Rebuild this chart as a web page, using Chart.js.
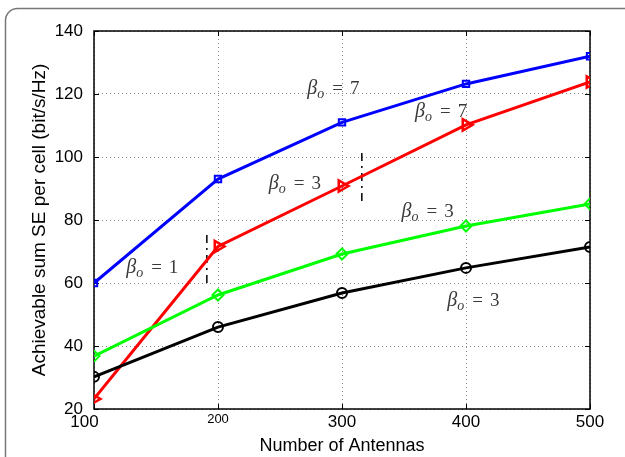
<!DOCTYPE html>
<html>
<head>
<meta charset="utf-8">
<script src="https://cdn.jsdelivr.net/npm/chart.js@4.4.1/dist/chart.umd.min.js"></script>
<style>
  body { margin: 0; background: #fff; }
  #wrap { width: 625px; height: 457px; }
</style>
</head>
<body>
<div id="wrap"><canvas id="seChart" width="625" height="457"></canvas></div>
<script>
// ===============================
// Data
// ===============================
const antennas = [100, 200, 300, 400, 500];
const blueSE  = [60, 93, 111, 123.2, 132];
const redSE   = [23.2, 71.6, 90.8, 110.2, 123.8];
const greenSE = [36.8, 56.2, 69.2, 78.1, 85.1];
const blackSE = [30.2, 46, 56.8, 64.8, 71.4];

const xTicks = [100, 200, 300, 400, 500];
const yTicks = [20, 40, 60, 80, 100, 120, 140];

// beta labels (data coords) and dashed markers
const noteX   = [293, 380, 262, 369, 147, 406];
const noteY   = [122, 114.5, 91.7, 82.9, 65, 54.6];
const noteVal = ['7', '7', '3', '3', '1', '3'];

const dash1X = [191, 191];
const dash1Y = [60, 76];
const dash2X = [316, 316];
const dash2Y = [86, 102];

const toPoints = (xs, ys) => xs.map((x, i) => ({ x: x, y: ys[i] }));

const SANS = "'Liberation Sans', Arial, sans-serif";
const SERIF = "'Liberation Serif', 'DejaVu Serif', serif";

// ===============================
// Frame, box, inward ticks, labels
// ===============================
const decorPlugin = {
  id: 'decor',
  beforeDraw(chart) {
    const ctx = chart.ctx;
    ctx.save();
    ctx.strokeStyle = '#777';
    ctx.lineWidth = 1.5;
    ctx.beginPath();
    ctx.roundRect(5.5, 8.5, 700, 600, 12);
    ctx.stroke();
    ctx.restore();
  },
  beforeDatasetsDraw(chart) {
    const { ctx, chartArea: a, scales } = chart;
    ctx.save();
    ctx.strokeStyle = '#000';
    ctx.lineWidth = 1.5;
    ctx.strokeRect(a.left, a.top, a.right - a.left, a.bottom - a.top);
    ctx.lineWidth = 1;
    ctx.beginPath();
    xTicks.forEach(v => {
      const px = Math.round(scales.x.getPixelForValue(v)) + 0.5;
      ctx.moveTo(px, a.bottom); ctx.lineTo(px, a.bottom - 5);
      ctx.moveTo(px, a.top); ctx.lineTo(px, a.top + 5);
    });
    yTicks.forEach(v => {
      const py = Math.round(scales.y.getPixelForValue(v)) + 0.5;
      ctx.moveTo(a.left, py); ctx.lineTo(a.left + 5, py);
      ctx.moveTo(a.right, py); ctx.lineTo(a.right - 5, py);
    });
    ctx.stroke();
    ctx.restore();
  },
  afterDatasetsDraw(chart) {
    const { ctx, scales } = chart;
    ctx.save();
    ctx.fillStyle = '#3a3a3a';
    ctx.textBaseline = 'alphabetic';
    noteX.forEach((nx, i) => {
      const cx = scales.x.getPixelForValue(nx);
      const cy = scales.y.getPixelForValue(noteY[i]) + 6;
      ctx.font = 'italic 20px ' + SERIF;
      const wb = ctx.measureText('\u03B2').width;
      ctx.font = 'italic 14px ' + SERIF;
      const wo = ctx.measureText('o').width;
      ctx.font = '19px ' + SERIF;
      const we = ctx.measureText('=').width;
      const wd = ctx.measureText(noteVal[i]).width;
      const total = wb + wo + 1 + 7 + we + 7 + wd;
      let x = cx - total / 2;
      ctx.font = 'italic 20px ' + SERIF;
      ctx.fillText('\u03B2', x, cy);
      x += wb;
      ctx.font = 'italic 14px ' + SERIF;
      ctx.fillText('o', x, cy + 4);
      x += wo + 1 + 7;
      ctx.font = '19px ' + SERIF;
      ctx.fillText('=', x, cy);
      x += we + 7;
      ctx.fillText(noteVal[i], x, cy);
    });
    ctx.restore();
  }
};

// ===============================
// Chart
// ===============================
const ctx = document.getElementById('seChart').getContext('2d');

const seriesStyle = (color, style, extra) => Object.assign({
  borderColor: color,
  backgroundColor: color,
  borderWidth: 3,
  pointStyle: style,
  pointRadius: 5,
  pointBorderWidth: 2,
  pointBackgroundColor: 'rgba(255,255,255,0)',
  pointBorderColor: color,
  tension: 0,
  fill: false
}, extra || {});

new Chart(ctx, {
  type: 'line',
  data: {
    datasets: [
      Object.assign({ label: 'black', data: toPoints(antennas, blackSE) }, seriesStyle('#000000', 'circle')),
      Object.assign({ label: 'green', data: toPoints(antennas, greenSE) }, seriesStyle('#00ff00', 'rectRot', { pointRadius: 5.5 })),
      Object.assign({ label: 'red', data: toPoints(antennas, redSE) }, seriesStyle('#ff0000', 'triangle', { pointRotation: 90, pointRadius: 6.5, pointBorderWidth: 2.5 })),
      Object.assign({ label: 'blue', data: toPoints(antennas, blueSE) }, seriesStyle('#0000ff', 'rect', { pointRadius: 4.5 })),
      { label: 'dash1', data: toPoints(dash1X, dash1Y), borderColor: '#000', borderWidth: 1.5,
        borderDash: [8, 5, 2, 5], pointRadius: 0 },
      { label: 'dash2', data: toPoints(dash2X, dash2Y), borderColor: '#000', borderWidth: 1.5,
        borderDash: [8, 5, 2, 5], pointRadius: 0 }
    ]
  },
  options: {
    responsive: false,
    animation: false,
    layout: { padding: { left: 20, top: 31, right: 35, bottom: 0 } },
    plugins: {
      legend: { display: false },
      tooltip: { enabled: false }
    },
    scales: {
      x: {
        type: 'linear',
        min: 100,
        max: 500,
        afterFit: (s) => { s.height = 48; },
        afterBuildTicks: (s) => { s.ticks = xTicks.map(v => ({ value: v })); },
        grid: { color: '#888', lineWidth: 1, drawTicks: false },
        border: { display: false, dash: [1, 3] },
        ticks: {
          padding: 3,
          color: '#000',
          maxRotation: 0,
          autoSkip: false,
          font: (c) => ({ family: SANS, size: c.tick && c.tick.value === 200 ? 13 : 17 }),
          callback: (v) => (v === 100 ? '100    ' : String(v))
        },
        title: {
          display: true,
          text: 'Number of Antennas',
          color: '#000',
          font: { family: SANS, size: 18 },
          padding: { top: 0, bottom: 0 }
        }
      },
      y: {
        min: 20,
        max: 140,
        afterFit: (s) => { s.width = 74; },
        afterBuildTicks: (s) => { s.ticks = yTicks.map(v => ({ value: v })); },
        grid: { color: '#888', lineWidth: 1, drawTicks: false },
        border: { display: false, dash: [1, 3] },
        ticks: {
          padding: 11,
          color: '#000',
          font: { family: SANS, size: 17 }
        },
        title: {
          display: true,
          text: 'Achievable sum SE per cell (bit/s/Hz)',
          color: '#000',
          font: { family: SANS, size: 19 },
          padding: { top: 8, bottom: 0 }
        }
      }
    }
  },
  plugins: [decorPlugin]
});
</script>
</body>
</html>
